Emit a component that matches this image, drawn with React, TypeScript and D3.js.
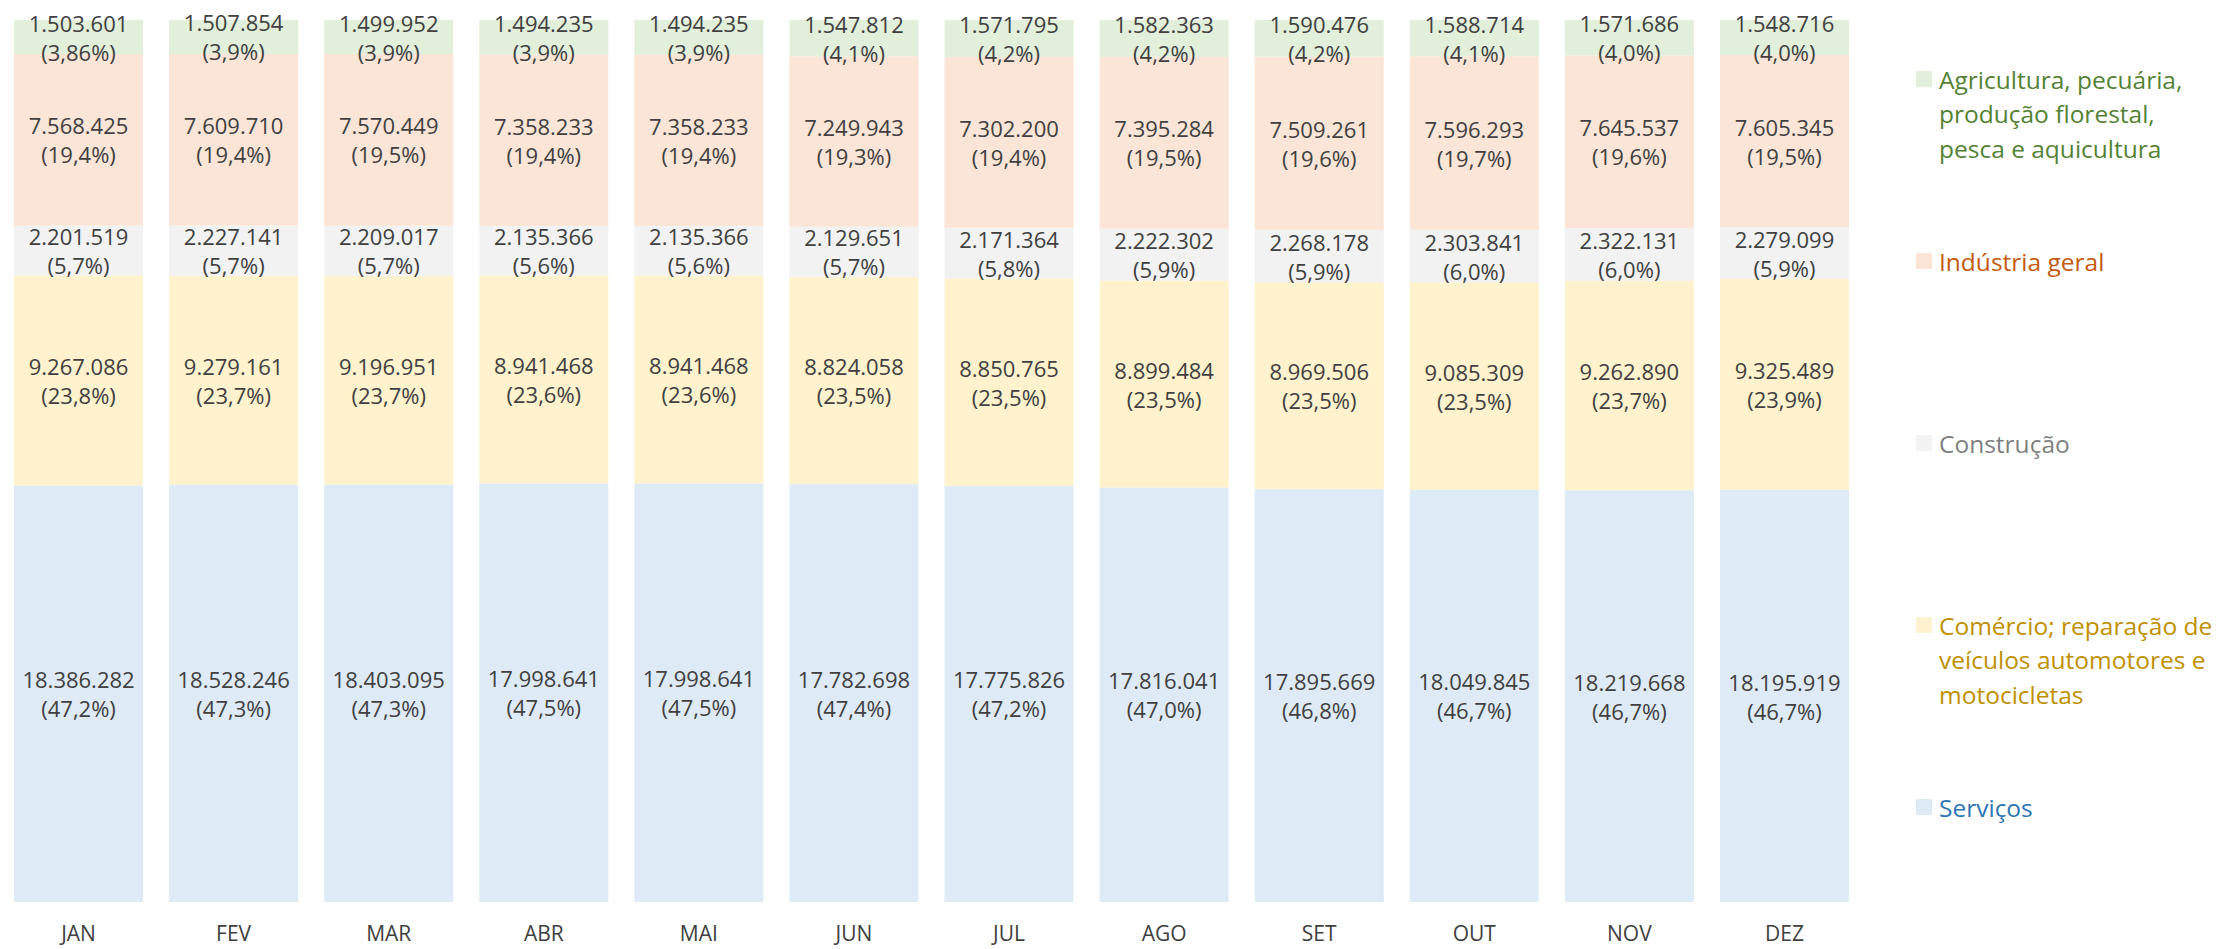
import React from "react";
import * as d3 from "d3";

const months = ["JAN", "FEV", "MAR", "ABR", "MAI", "JUN", "JUL", "AGO", "SET", "OUT", "NOV", "DEZ"];

const seriesNames = [
  "Serviços",
  "Comércio; reparação de veículos automotores e motocicletas",
  "Construção",
  "Indústria geral",
  "Agricultura, pecuária, produção florestal, pesca e aquicultura",
];

const servicos = [18386282, 18528246, 18403095, 17998641, 17998641, 17782698, 17775826, 17816041, 17895669, 18049845, 18219668, 18195919];
const servicosPct = ["47,2", "47,3", "47,3", "47,5", "47,5", "47,4", "47,2", "47,0", "46,8", "46,7", "46,7", "46,7"];

const comercio = [9267086, 9279161, 9196951, 8941468, 8941468, 8824058, 8850765, 8899484, 8969506, 9085309, 9262890, 9325489];
const comercioPct = ["23,8", "23,7", "23,7", "23,6", "23,6", "23,5", "23,5", "23,5", "23,5", "23,5", "23,7", "23,9"];

const construcao = [2201519, 2227141, 2209017, 2135366, 2135366, 2129651, 2171364, 2222302, 2268178, 2303841, 2322131, 2279099];
const construcaoPct = ["5,7", "5,7", "5,7", "5,6", "5,6", "5,7", "5,8", "5,9", "5,9", "6,0", "6,0", "5,9"];

const industria = [7568425, 7609710, 7570449, 7358233, 7358233, 7249943, 7302200, 7395284, 7509261, 7596293, 7645537, 7605345];
const industriaPct = ["19,4", "19,4", "19,5", "19,4", "19,4", "19,3", "19,4", "19,5", "19,6", "19,7", "19,6", "19,5"];

const agricultura = [1503601, 1507854, 1499952, 1494235, 1494235, 1547812, 1571795, 1582363, 1590476, 1588714, 1571686, 1548716];
const agriculturaPct = ["3,86", "3,9", "3,9", "3,9", "3,9", "4,1", "4,2", "4,2", "4,2", "4,1", "4,0", "4,0"];

const seriesValues = [servicos, comercio, construcao, industria, agricultura];
const seriesPcts = [servicosPct, comercioPct, construcaoPct, industriaPct, agriculturaPct];

const fillColors = ["#DEEBF7", "#FFF2CC", "#F2F2F2", "#FBE5D6", "#E2EFDA"];
const textColors = ["#2E75B6", "#BF9000", "#7F7F7F", "#C55A11", "#548235"];

const legendLines = [
  ["Serviços"],
  ["Comércio; reparação de", "veículos automotores e", "motocicletas"],
  ["Construção"],
  ["Indústria geral"],
  ["Agricultura, pecuária,", "produção florestal,", "pesca e aquicultura"],
];

const W = 2227;
const H = 949;
const FONT = "'Open Sans', 'Noto Sans', sans-serif";
const locale = d3.formatLocale({ decimal: ",", thousands: ".", grouping: [3], currency: ["R$", ""] });
const fmt = locale.format(",d");

export default function App() {
  const rows = months.map((m, i) => {
    const r: any = { month: m };
    seriesNames.forEach((s, k) => (r[s] = seriesValues[k][i]));
    return r;
  });
  const stack = d3.stack().keys(seriesNames).offset(d3.stackOffsetExpand);
  const layers = stack(rows);

  const x = d3.scaleBand().domain(months).range([1, 1862]).paddingInner(0.168).paddingOuter(0.084);
  const y = d3.scaleLinear().domain([0, 1]).range([902, 20]);

  const legendX = 1916;
  const legendTop = 79;
  const legendStep = 182;
  const lineH = 34.5;
  const legendOrder = [4, 3, 2, 1, 0];

  return (
    <svg width={W} height={H} style={{ position: "absolute", left: 0, top: 0, background: "#fff" }} fontFamily={FONT}>
      {layers.map((layer, k) => (
        <g key={k}>
          {layer.map((d, i) => {
            const x0 = x(months[i])!;
            const y0 = y(d[1]);
            const y1 = y(d[0]);
            const cy = (y0 + y1) / 2;
            const cx = x0 + x.bandwidth() / 2;
            return (
              <g key={i}>
                <rect x={x0} y={y0} width={x.bandwidth()} height={y1 - y0} fill={fillColors[k]} />
                <text x={cx} y={cy - 14.5} textAnchor="middle" dominantBaseline="central" fontSize={22} fill="#404040">
                  {fmt(seriesValues[k][i])}
                </text>
                <text x={cx} y={cy + 14.5} textAnchor="middle" dominantBaseline="central" fontSize={22} fill="#404040">
                  {`(${seriesPcts[k][i]}%)`}
                </text>
              </g>
            );
          })}
        </g>
      ))}
      {months.map((m) => (
        <text key={m} x={x(m)! + x.bandwidth() / 2} y={941} textAnchor="middle" fontSize={21} fill="#404040">
          {m}
        </text>
      ))}
      {legendOrder.map((k, j) => {
        const cy = legendTop + j * legendStep;
        return (
          <g key={k}>
            <rect x={legendX} y={cy - 8} width={16} height={16} fill={fillColors[k]} />
            {legendLines[k].map((ln, li) => (
              <text key={li} x={1939} y={cy + li * lineH} dominantBaseline="central" fontSize={24.5} fill={textColors[k]}>
                {ln}
              </text>
            ))}
          </g>
        );
      })}
    </svg>
  );
}
